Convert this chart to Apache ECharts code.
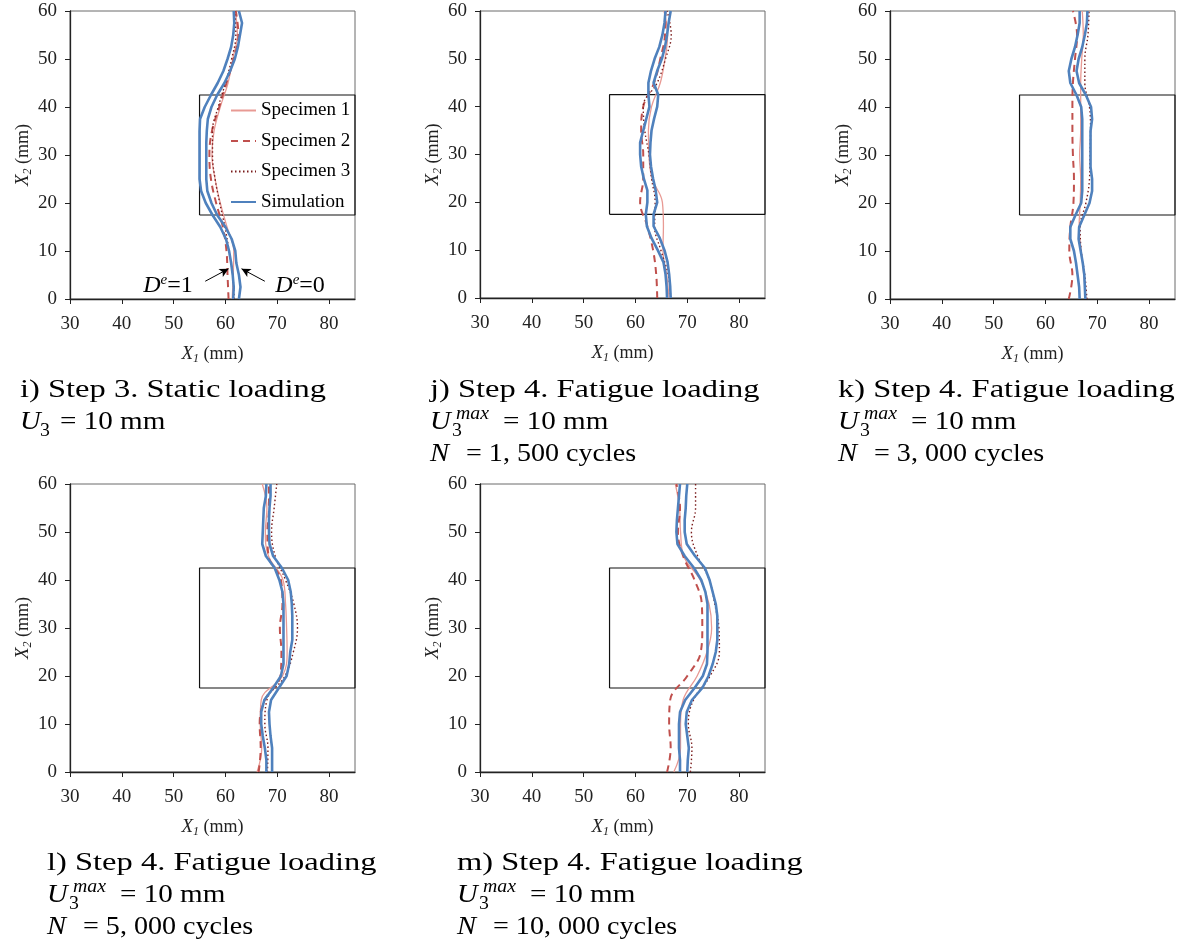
<!DOCTYPE html>
<html>
<head>
<meta charset="utf-8">
<script src="https://cdn.jsdelivr.net/npm/echarts@6/dist/echarts.min.js"></script>
<style>html,body{margin:0;padding:0;background:#fff}#c{width:1183px;height:945px}</style>
</head>
<body>
<div id="c"></div>
<script>
// ---- sample positions along X2 (mm) ----
const Y_SPEC = [0,5,10,15,20,25,30,35,40,45,50,55,60];
const Y_SIM = [0,2.5,5,7.5,10,12.5,15,17.5,20,22.5,25,27.5,30,32.5,35,37.5,40,42.5,45,47.5,50,52.5,55,57.5,60];
const X_TICKS = [30,40,50,60,70,80];
const rectX = [55,85,85,55,55];
const rectY = [17.5,17.5,42.5,42.5,17.5];

// ---- i) Step 3 static ----
const i_spec1 = [61.3,61.5,61.6,60.3,59,58,57.4,57.8,59,60.5,61.4,62.3,61.9];
const i_spec2 = [60.6,60.4,60.2,59.5,58.2,57.2,56.9,57.4,58.8,60.2,61.6,62.5,62];
const i_spec3 = [61.7,61.4,60.7,59.9,58.9,58,57.5,57.5,58.6,60,61.2,62,61.8];
const i_sim1 = [61.5,61.6,61.4,61.1,60.7,60.1,59,57.5,56.2,55.3,55,55,55,55,55,55.1,56,57.2,58.5,59.6,60.4,61.1,61.5,61.7,61.6];
const i_sim0 = [62.6,62.9,62.6,62.1,61.9,61.2,60,58.4,57.3,56.5,56.3,56.3,56.3,56.3,56.4,56.6,57.3,58.4,59.8,60.9,61.8,62.4,62.8,63.2,62.6];
// ---- j) N = 1,500 ----
const j_spec1 = [66.5,66,65.3,65.4,65.2,63.2,62.6,62.5,63.1,64.8,65.7,66.2,65.5];
const j_spec2 = [64.2,64,63.4,62.3,60.9,61.5,61.5,61.1,61.5,63.6,64.8,65.7,65.8];
const j_spec3 = [66.8,66.3,64.9,63.7,63.8,63.1,62.6,61.8,61.5,64.2,65.8,66.9,66.1];
const j_sim1 = [66.1,66,65.8,65.4,64.3,63.1,62.2,62,62.3,62.3,61.6,61.1,60.9,60.9,61.5,62.1,62.7,62.5,62.5,63,63.7,64.6,65.2,65.6,65.8];
const j_sim0 = [66.8,66.7,66.5,66.2,65.6,64.7,63.5,63.5,64.2,63.9,63.4,63,62.8,62.9,63.1,63.6,64.2,64.4,63.5,64.2,65.1,65.7,66.1,66.4,66.8];
// ---- k) N = 3,000 ----
const k_spec1 = [67.8,67.4,66.9,66.5,66.7,66.8,66.6,66.8,66.8,66.8,67,67.3,67.1];
const k_spec2 = [64.5,65.2,64.6,64.8,65.4,65.5,65.3,65.2,65.2,65.3,65.7,66.1,65.3];
const k_spec3 = [68,67.6,66.9,66.7,67.8,68.5,68.6,68.7,68.5,67.6,67.6,68.2,68.4];
const k_sim1 = [66.6,66.5,66.2,65.9,65.5,64.8,64.8,65.8,66.9,67.1,67.1,67.1,67.1,67.1,67.1,67.1,66.9,66,64.8,64.5,65,65.7,66.2,66.6,66.6];
const k_sim0 = [67.7,67.6,67.5,67.2,66.8,66.4,66.5,67.5,68.5,69,69,68.7,68.7,68.7,68.7,69,68.8,67.8,66.5,66,66.4,67.1,67.6,68,68.1];
// ---- l) N = 5,000 ----
const l_spec1 = [66.1,67,66.7,66.9,71,71.9,71.8,71.6,71.1,68.3,67.7,68,67.1];
const l_spec2 = [66.4,66.8,66.6,67.6,70.6,70.8,70.5,71,70.7,68.3,68.1,68.4,68.4];
const l_spec3 = [68.1,68.2,67.6,68,71.5,73.1,73.9,73.2,71.6,69.6,68.9,69.4,69.9];
const l_sim1 = [67.9,67.9,67.6,67.2,66.9,66.9,67.5,69.2,70.7,71.2,71.2,71.2,71.2,71.2,71.2,71,70.4,69.5,67.8,67.1,67.2,67.3,67.4,67.8,67.9];
const l_sim0 = [69,69,69,68.7,68.5,68.4,68.8,70.3,71.8,72.3,72.5,72.9,72.9,72.9,72.8,72.6,72.1,70.9,69.2,68.5,68.4,68.4,68.5,68.7,68.7];
// ---- m) N = 10,000 ----
const m_spec1 = [67.4,68.7,68.7,69.2,71.9,73.8,74.7,74.2,72.5,69.3,68.7,68.5,67.7];
const m_spec2 = [66.1,66.8,66.5,66.7,70,72.6,72.9,72.8,71.4,69.2,68.2,68.6,67.9];
const m_spec3 = [70.6,70.9,70.2,71.2,74.4,76.2,76.1,75.3,74.3,72,70.8,71.6,71.6];
const m_sim1 = [68.6,68.6,68.4,68.4,68.4,68.6,69.6,71.4,73,73.8,73.9,73.9,73.9,73.9,73.9,73.5,72.7,71.3,69.5,68.1,67.9,68,68.2,68.4,68.6];
const m_sim0 = [70,70.1,70.3,70,69.7,69.9,70.9,72.9,74.1,74.9,75.5,75.8,75.8,75.8,75.5,74.9,74.3,73.4,71.5,69.9,69.5,69.5,69.7,69.8,70];

const SERIES_NAMES = ['Specimen 1','Specimen 2','Specimen 3','Simulation'];

const plotTable = [
  [i_spec1,i_spec2,i_spec3,i_sim1,i_sim0],
  [j_spec1,j_spec2,j_spec3,j_sim1,j_sim0],
  [k_spec1,k_spec2,k_spec3,k_sim1,k_sim0],
  [l_spec1,l_spec2,l_spec3,l_sim1,l_sim0],
  [m_spec1,m_spec2,m_spec3,m_sim1,m_sim0]
];

const FONT = '"Liberation Serif","Times New Roman",serif';
const gridPos = [
  {left:70, top:11, width:285, height:288},
  {left:480, top:11, width:285, height:287},
  {left:890, top:11, width:285, height:288},
  {left:70, top:484, width:285, height:288},
  {left:480, top:484, width:285, height:288}
];

const pair = (xs, ys) => ys.map((y,k)=>[xs[k], y]);
const nameRich = {
  i:{fontFamily:FONT, fontStyle:'italic', fontSize:19, color:'#222', lineHeight:22, verticalAlign:'middle'},
  s:{fontFamily:FONT, fontStyle:'italic', fontSize:12, color:'#222', lineHeight:22, verticalAlign:'bottom', padding:[7,0,0,0]},
  r:{fontFamily:FONT, fontSize:18, color:'#222', lineHeight:22, verticalAlign:'middle'}
};

const grids = [], xAxes = [], yAxes = [], series = [];
plotTable.forEach((p, g) => {
  grids.push(Object.assign({show:true, borderColor:'#6a6a6a', borderWidth:1, containLabel:false}, gridPos[g]));
  xAxes.push({
    type:'value', gridIndex:g, min:30, max:85, interval:10,
    name:'{i|X}{s|1}{r| (mm)}', nameLocation:'middle', nameGap:44,
    nameTextStyle:{rich:nameRich},
    axisLine:{show:true, onZero:false, lineStyle:{color:'#222', width:1.3}},
    axisTick:{show:true, length:5, lineStyle:{color:'#222'}, customValues:X_TICKS},
    axisLabel:{fontFamily:FONT, fontSize:19, color:'#222', margin:16, customValues:X_TICKS},
    splitLine:{show:false}
  });
  yAxes.push({
    type:'value', gridIndex:g, min:0, max:60, interval:10,
    name:'{i|X}{s|2}{r| (mm)}', nameLocation:'middle', nameGap:36, nameRotate:90,
    nameTextStyle:{rich:nameRich},
    axisLine:{show:true, onZero:false, lineStyle:{color:'#222', width:1.3}},
    axisTick:{show:true, length:5, lineStyle:{color:'#222'}},
    axisLabel:{fontFamily:FONT, fontSize:19, color:'#222', margin:13},
    splitLine:{show:false}
  });
  const base = {type:'line', xAxisIndex:g, yAxisIndex:g, symbol:'none', silent:true, animation:false};
  series.push(Object.assign({}, base, {name:'box', data:pair(rectX, rectY), lineStyle:{color:'#111', width:1.2}, z:1}));
  series.push(Object.assign({}, base, {name:'Specimen 1', data:pair(p[0], Y_SPEC), smooth:0.4, lineStyle:{color:'#e89a94', width:1.3}, itemStyle:{color:'#e89a94'}, z:2}));
  series.push(Object.assign({}, base, {name:'Specimen 2', data:pair(p[1], Y_SPEC), smooth:0.4, lineStyle:{color:'#c0504d', width:2, type:[7,5]}, itemStyle:{color:'#c0504d'}, z:2}));
  series.push(Object.assign({}, base, {name:'Specimen 3', data:pair(p[2], Y_SPEC), smooth:0.4, lineStyle:{color:'#7a1c1c', width:1.4, type:[1.5,2.5]}, itemStyle:{color:'#7a1c1c'}, z:2}));
  const sim1 = Object.assign({}, base, {name:'Simulation', data:pair(p[3], Y_SIM), lineStyle:{color:'#4f81bd', width:2.6}, itemStyle:{color:'#4f81bd'}, z:3});
  const sim0 = Object.assign({}, base, {name:'Simulation', data:pair(p[4], Y_SIM), lineStyle:{color:'#4f81bd', width:2.6}, itemStyle:{color:'#4f81bd'}, z:3});
  if (g === 0) {
    sim1.markLine = {
      silent:true, animation:false, symbol:['none','arrow'], symbolSize:[7,9],
      label:{show:false}, lineStyle:{color:'#000', width:1, type:'solid'},
      data:[
        [{coord:[56.1,3.7]},{coord:[60.6,6.3]}],
        [{coord:[67.6,3.7]},{coord:[63.1,6.3]}]
      ]
    };
    sim1.markPoint = {
      silent:true, animation:false, symbol:'circle', symbolSize:1, itemStyle:{color:'rgba(0,0,0,0)'},
      label:{show:true, position:'inside', color:'#000', rich:{
        d:{fontFamily:FONT, fontStyle:'italic', fontSize:24, color:'#000', lineHeight:26, verticalAlign:'middle'},
        e:{fontFamily:FONT, fontStyle:'italic', fontSize:15, color:'#000', lineHeight:15, verticalAlign:'top'},
        r:{fontFamily:FONT, fontSize:24, color:'#000', lineHeight:26, verticalAlign:'middle'}
      }},
      data:[
        {coord:[48.9,2.8], label:{formatter:'{d|D}{e|e}{r|=1}'}},
        {coord:[74.4,2.8], label:{formatter:'{d|D}{e|e}{r|=0}'}}
      ]
    };
  }
  series.push(sim1, sim0);
});

// ---- captions ----
const graphics = [];
function t(x, y, text, font, sx){ graphics.push({type:'text', x:x, y:y, scaleX:sx||1, silent:true, style:{text:text, font:font, fill:'#000', verticalAlign:'middle'}}); }
function caption(x, y0, head, withMax, nText){
  const rm = '26px "Liberation Serif"';
  const it = 'italic 26px "Liberation Serif"';
  const sm = '18px "Liberation Serif"';
  const smi = 'italic 18px "Liberation Serif"';
  t(x, y0, head, rm, 1.25);
  const y1 = y0 + 32;
  t(x, y1, 'U', it, 1.1);
  if (withMax) {
    t(x+26, y1-8, 'max', smi, 1.1);
    t(x+22, y1+9, '3', sm, 1.1);
    t(x+73, y1, '= 10 mm', rm, 1.12);
  } else {
    t(x+20, y1+9, '3', sm, 1.1);
    t(x+40, y1, '= 10 mm', rm, 1.12);
  }
  if (nText) {
    const y2 = y1 + 32;
    t(x, y2, 'N', it, 1.1);
    t(x+36, y2, nText, rm, 1.08);
  }
}
caption(20, 390, 'i) Step 3. Static loading', false, null);
caption(430, 390, 'j) Step 4. Fatigue loading', true, '= 1, 500 cycles');
caption(838, 390, 'k) Step 4. Fatigue loading', true, '= 3, 000 cycles');
caption(47, 863, 'l) Step 4. Fatigue loading', true, '= 5, 000 cycles');
caption(457, 863, 'm) Step 4. Fatigue loading', true, '= 10, 000 cycles');

const chart = echarts.init(document.getElementById('c'), null, {renderer:'canvas'});
chart.setOption({
  animation:false,
  backgroundColor:'#fff',
  grid:grids, xAxis:xAxes, yAxis:yAxes, series:series,
  legend:{
    data:SERIES_NAMES, orient:'vertical', left:230, top:101, padding:0,
    itemWidth:25, itemHeight:17, itemGap:11.5, selectedMode:false,
    itemStyle:{opacity:0},
    textStyle:{fontFamily:FONT, fontSize:19, color:'#000'}
  },
  graphic:graphics
});
</script>
</body>
</html>
